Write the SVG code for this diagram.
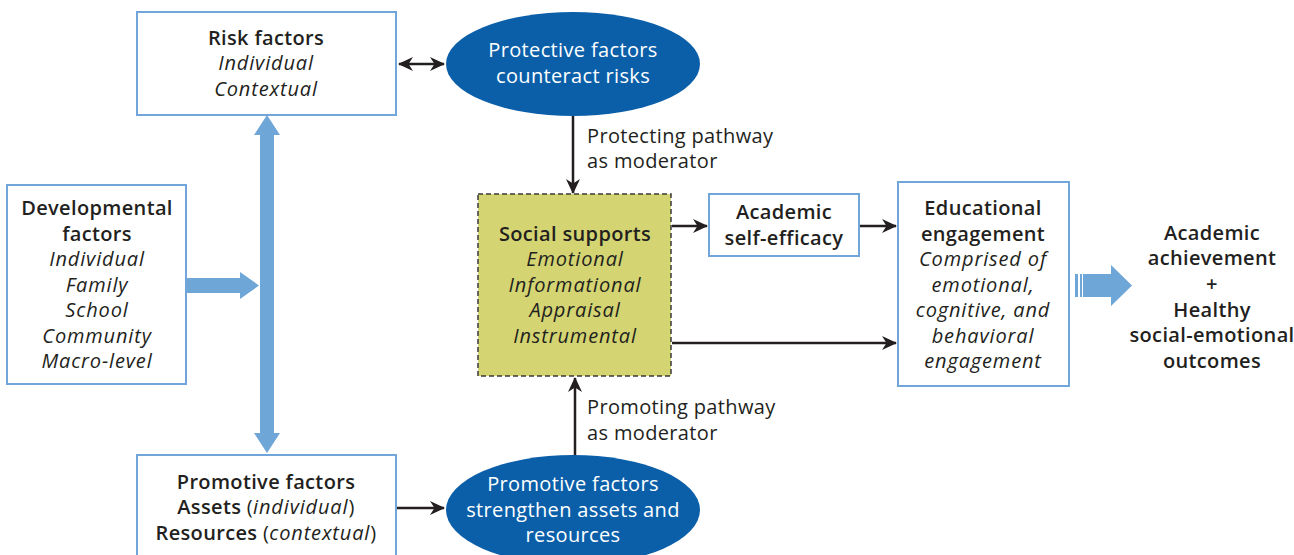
<svg xmlns="http://www.w3.org/2000/svg" width="1294" height="555" viewBox="0 0 1294 555">
<defs>
<style>
text{font-family:"Open Sans","Noto Sans","Liberation Sans",sans-serif;font-size:20px;fill:#231f20;text-anchor:middle;letter-spacing:0.35px}
.b{font-weight:600}
.i{font-style:italic;letter-spacing:0.85px}
.l{text-anchor:start}
.w{fill:#ffffff}
.box{fill:#ffffff;stroke:#72a6da;stroke-width:2}
.ell{fill:#0b5fa9}
.con{stroke:#231f20;stroke-width:2.5;fill:none}
.thick{fill:#6fa6d8}
</style>
<marker id="ah" markerWidth="16" markerHeight="14" refX="14" refY="7" orient="auto-start-reverse" markerUnits="userSpaceOnUse">
<path d="M0,0 L15,7 L0,14 L4.5,7 Z" fill="#231f20"/>
</marker>
</defs>
<rect width="1294" height="555" fill="#ffffff"/>

<g id="connectors">
<line class="con" x1="399" y1="64" x2="444" y2="64" marker-start="url(#ah)" marker-end="url(#ah)"/>
<line class="con" x1="573" y1="116" x2="573" y2="193" marker-end="url(#ah)"/>
<line class="con" x1="575" y1="456" x2="575" y2="378" marker-end="url(#ah)"/>
<line class="con" x1="397" y1="508" x2="444" y2="508" marker-end="url(#ah)"/>
<line class="con" x1="672" y1="226" x2="707" y2="226" marker-end="url(#ah)"/>
<line class="con" x1="860" y1="226" x2="896" y2="226" marker-end="url(#ah)"/>
<line class="con" x1="672" y1="343" x2="896" y2="343" marker-end="url(#ah)"/>
<path class="thick" d="M267,115 L280,135 L274,135 L274,433 L280,433 L267,453 L254,433 L260,433 L260,135 L254,135 Z"/>
<path class="thick" d="M187,278 L240,278 L240,272 L259,285.5 L240,299 L240,293 L187,293 Z"/>
<path class="thick" d="M1075,274 L1078,274 L1078,297 L1075,297 Z M1080,274 L1082,274 L1082,297 L1080,297 Z M1083,274 L1111,274 L1111,265 L1132,285.5 L1111,306 L1111,297 L1083,297 Z"/>
<text class="l" x="587" y="143">Protecting pathway</text>
<text class="l" x="587" y="168">as moderator</text>
<text class="l" x="587" y="414">Promoting pathway</text>
<text class="l" x="587" y="440">as moderator</text>
</g>

<g id="risk">
<rect class="box" x="137" y="12" width="259" height="103"/>
<text class="b" x="266" y="45">Risk factors</text>
<text class="i" x="266" y="70">Individual</text>
<text class="i" x="266" y="96">Contextual</text>
</g>

<g id="protective">
<ellipse class="ell" cx="573" cy="64" rx="127" ry="52"/>
<text class="w" x="573" y="57">Protective factors</text>
<text class="w" x="573" y="83">counteract risks</text>
</g>

<g id="developmental">
<rect class="box" x="7" y="185" width="179" height="199"/>
<text class="b" x="97" y="215">Developmental</text>
<text class="b" x="97" y="241">factors</text>
<text class="i" x="97" y="266">Individual</text>
<text class="i" x="97" y="292">Family</text>
<text class="i" x="97" y="317">School</text>
<text class="i" x="97" y="343">Community</text>
<text class="i" x="97" y="368">Macro-level</text>
</g>

<g id="social">
<rect x="478" y="194" width="193" height="182" fill="#d4d572" stroke="#3a3a3a" stroke-width="1.5" stroke-dasharray="5,3"/>
<text class="b" x="575" y="241">Social supports</text>
<text class="i" x="575" y="266">Emotional</text>
<text class="i" x="575" y="292">Informational</text>
<text class="i" x="575" y="317">Appraisal</text>
<text class="i" x="575" y="343">Instrumental</text>
</g>

<g id="selfefficacy">
<rect class="box" x="709" y="194" width="150" height="62"/>
<text class="b" x="784" y="219">Academic</text>
<text class="b" x="784" y="245">self-efficacy</text>
</g>

<g id="engagement">
<rect class="box" x="898" y="182" width="171" height="204"/>
<text class="b" x="983" y="215">Educational</text>
<text class="b" x="983" y="241">engagement</text>
<text class="i" x="983" y="266">Comprised of</text>
<text class="i" x="983" y="292">emotional,</text>
<text class="i" x="983" y="317">cognitive, and</text>
<text class="i" x="983" y="343">behavioral</text>
<text class="i" x="983" y="368">engagement</text>
</g>

<g id="outcomes">
<text class="b" x="1212" y="240">Academic</text>
<text class="b" x="1212" y="265">achievement</text>
<text class="b" x="1212" y="291">+</text>
<text class="b" x="1212" y="317">Healthy</text>
<text class="b" x="1212" y="342">social-emotional</text>
<text class="b" x="1212" y="368">outcomes</text>
</g>

<g id="promotivebox">
<rect class="box" x="137" y="455" width="259" height="110"/>
<text class="b" x="266" y="489">Promotive factors</text>
<text x="266" y="514"><tspan class="b">Assets</tspan> (<tspan class="i">individual</tspan>)</text>
<text x="266" y="540"><tspan class="b">Resources</tspan> (<tspan class="i">contextual</tspan>)</text>
</g>

<g id="promotiveellipse">
<ellipse class="ell" cx="573" cy="510" rx="127" ry="55"/>
<text class="w" x="573" y="491">Promotive factors</text>
<text class="w" x="573" y="517">strengthen assets and</text>
<text class="w" x="573" y="542">resources</text>
</g>
</svg>
